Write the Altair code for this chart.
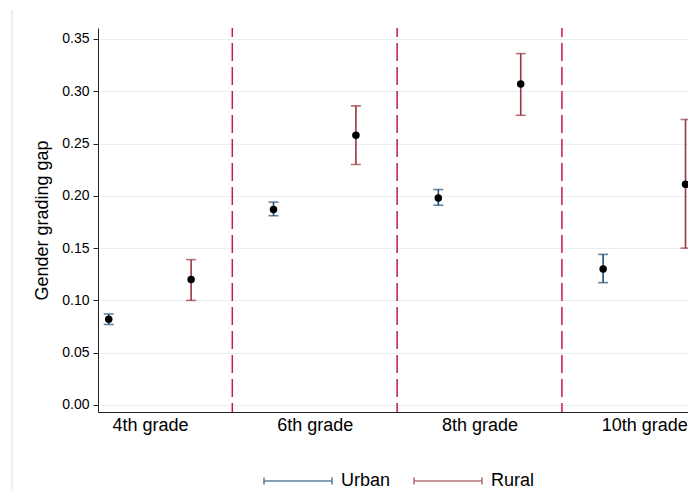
import altair as alt
import pandas as pd

grades = ["4th grade", "6th grade", "8th grade", "10th grade"]
urban_est = [0.082, 0.187, 0.198, 0.130]
urban_lo = [0.077, 0.181, 0.191, 0.117]
urban_hi = [0.087, 0.194, 0.206, 0.144]
rural_est = [0.120, 0.258, 0.307, 0.211]
rural_lo = [0.100, 0.230, 0.277, 0.150]
rural_hi = [0.139, 0.286, 0.336, 0.273]
groups = ["Urban", "Rural"]
y_ticks = [0.0, 0.05, 0.10, 0.15, 0.20, 0.25, 0.30, 0.35]

rows = []
for i, g in enumerate(grades):
    rows.append(dict(grade=g, area="Urban", pos=2 * i + 1, est=urban_est[i], lo=urban_lo[i], hi=urban_hi[i]))
    rows.append(dict(grade=g, area="Rural", pos=2 * i + 2, est=rural_est[i], lo=rural_lo[i], hi=rural_hi[i]))
df = pd.DataFrame(rows)
dividers = pd.DataFrame({"pos": [2 * i + 2.5 for i in range(len(grades) - 1)]})
label_pos = [2 * i + 1.5 for i in range(len(grades))]
label_expr = "[" + ",".join('"%s"' % g for g in grades) + "][round((datum.value - 1.5) / 2)]"

FONT = "Liberation Sans"
W, H = 590, 384

xscale = alt.Scale(domain=[0.87, 8.03], nice=False, zero=False)
yscale = alt.Scale(domain=[-0.0067, 0.3605], nice=False, zero=False)
color = alt.Color(
    "area:N",
    scale=alt.Scale(domain=groups, range=["#1f4e79", "#963640"]),
    legend=alt.Legend(
        title=None,
        orient="none",
        direction="horizontal",
        legendX=165,
        legendY=418,
        symbolType="M-1,-0.1L-1,0.1M-1,0L1,0M1,-0.1L1,0.1",
        symbolSize=4624,
        symbolStrokeWidth=1.6,
        symbolFillColor="transparent",
        labelFont=FONT,
        labelFontSize=18,
        labelColor="#000",
        labelOffset=8,
        columnPadding=19,
        padding=0,
    ),
)

base = alt.Chart(df)

xaxis = alt.Axis(
    values=label_pos, labelExpr=label_expr, title=None, grid=False, ticks=False,
    domainColor="#222", domainWidth=1, labelFont=FONT, labelFontSize=18, labelColor="#000",
    labelPadding=4,
)
yaxis = alt.Axis(
    values=y_ticks, format=".2f", title="Gender grading gap", grid=True, gridColor="#e8eff1",
    gridWidth=1, domainColor="#222", tickColor="#222", tickSize=5, labelFont=FONT,
    labelFontSize=14, labelColor="#000", labelPadding=4, titleFont=FONT, titleFontSize=18,
    titleFontWeight="normal", titleColor="#000", titlePadding=10,
)

bars = base.mark_rule(strokeWidth=1.6).encode(
    x=alt.X("pos:Q", scale=xscale, axis=xaxis),
    y=alt.Y("lo:Q", scale=yscale, axis=yaxis),
    y2="hi:Q",
    color=color,
)
caps_lo = base.mark_tick(orient="horizontal", size=10, thickness=1.6).encode(
    x=alt.X("pos:Q", scale=xscale), y=alt.Y("lo:Q", scale=yscale), color=color
)
caps_hi = base.mark_tick(orient="horizontal", size=10, thickness=1.6).encode(
    x=alt.X("pos:Q", scale=xscale), y=alt.Y("hi:Q", scale=yscale), color=color
)
points = base.mark_circle(size=56, color="#000", opacity=1).encode(
    x=alt.X("pos:Q", scale=xscale), y=alt.Y("est:Q", scale=yscale)
)
divs = alt.Chart(dividers).mark_rule(
    color="#c8184a", strokeWidth=1.5, strokeDash=[18, 6], strokeDashOffset=9
).encode(x=alt.X("pos:Q", scale=xscale))
border = alt.Chart(dividers).mark_rule(color="#e6eef0", strokeWidth=1).encode(
    x=alt.value(-86), y=alt.value(-18), y2=alt.value(H + 80)
)

chart = alt.layer(border, divs, bars, caps_lo, caps_hi, points).properties(
    width=W,
    height=H,
    autosize=alt.AutoSizeParams(type="none"),
    padding={"left": 90, "top": 20, "right": 0, "bottom": 79},
    background="white",
).configure_view(stroke=None)

chart.save("out.html", embed_options={"renderer": "svg", "actions": False})
